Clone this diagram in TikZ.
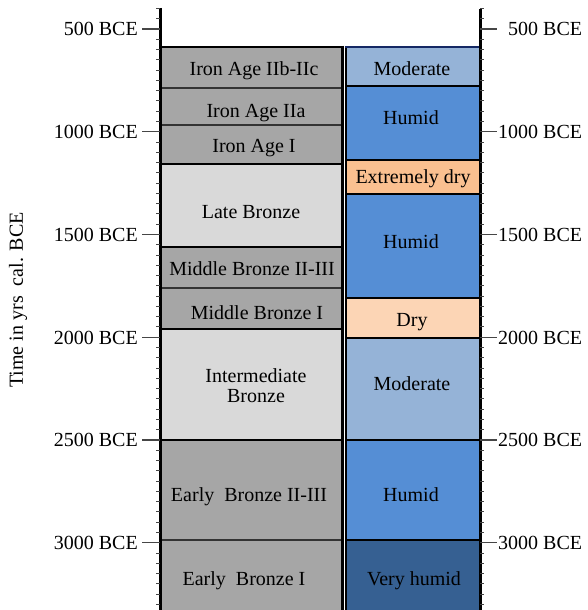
\documentclass[tikz,border=0pt]{standalone}
\usepackage{fontspec}
\setmainfont{Liberation Serif}
\definecolor{gdark}{RGB}{166,166,166}
\definecolor{glight}{RGB}{217,217,217}
\definecolor{moder}{RGB}{149,179,215}
\definecolor{humid}{RGB}{85,142,213}
\definecolor{vhumid}{RGB}{54,96,146}
\definecolor{xdry}{RGB}{250,192,144}
\definecolor{dry}{RGB}{252,213,181}
\definecolor{navy}{RGB}{20,40,100}
\definecolor{tickc}{RGB}{70,70,70}
\begin{document}
\begin{tikzpicture}[x=1pt,y=-1pt,
  font=\fontsize{20}{20}\selectfont,
  lbl/.style={anchor=base, inner sep=0pt},
  thickb/.style={line width=2.8pt, black},
  thinb/.style={line width=1.1pt, black!80},
  cellb/.style={line width=2.8pt, black},
  majtick/.style={line width=1.4pt, tickc},
  mintick/.style={line width=0.9pt, tickc},
  axisl/.style={line width=3pt, black},
  yl/.style={anchor=base east, inner sep=0pt},
  yr/.style={anchor=base west, inner sep=0pt}]
\useasboundingbox (0,0) rectangle (587,610);
% left column fills
\fill[gdark] (160,47) rectangle (343,164);
\fill[glight] (160,164) rectangle (343,247);
\fill[gdark] (160,247) rectangle (343,329);
\fill[glight] (160,329) rectangle (343,440);
\fill[gdark] (160,440) rectangle (343,610);
% right column fills
\fill[moder] (345,47) rectangle (480,86);
\fill[humid] (345,86) rectangle (480,160);
\fill[xdry] (345,160) rectangle (480,194);
\fill[humid] (345,194) rectangle (480,298);
\fill[dry] (345,298) rectangle (480,338);
\fill[moder] (345,338) rectangle (480,440);
\fill[humid] (345,440) rectangle (480,540);
\fill[vhumid] (345,540) rectangle (480,610);
% left column borders
\draw[thinb] (160,88) -- (343,88);
\draw[thinb] (160,125) -- (343,125);
\draw[thinb] (160,288) -- (343,288);
\draw[thinb] (160,540) -- (343,540);
\draw[thickb] (160,47) -- (343,47);
\draw[thickb] (160,164) -- (343,164);
\draw[thickb] (160,247) -- (343,247);
\draw[thickb] (160,329) -- (343,329);
\draw[thickb] (160,440) -- (343,440);
\draw[thickb] (342.5,45.6) -- (342.5,610);
% right column borders
\draw[cellb] (346,47) -- (346,610);
\foreach \yy in {86,160,194,298,338,440,540}
  \draw[cellb] (345,\yy) -- (480,\yy);
\draw[line width=2.5pt, navy] (344.8,47) -- (480,47);
% axes
\draw[axisl] (160,8) -- (160,610);
\draw[axisl] (480,9) -- (480,610);
% minor ticks
\foreach \j in {-2,...,56} {
  \draw[mintick] (156,{29+\j*10.274}) -- (160,{29+\j*10.274});
  \draw[mintick] (480,{29+\j*10.274}) -- (484,{29+\j*10.274});
}
% major ticks and labels
\foreach \k/\lab in {0/500,1/1000,2/1500,3/2000,4/2500,5/3000} {
  \draw[majtick] (142,{29+\k*102.74}) -- (160,{29+\k*102.74});
  \draw[majtick] (480,{29+\k*102.74}) -- (497,{29+\k*102.74});
  \node[yl] (l\lab) at (138,{36+\k*102.74}) {\lab\ BCE};
}
\node[yr] (r500) at (508,36) {500 BCE};
\foreach \k/\lab in {1/1000,2/1500,3/2000,4/2500,5/3000}
  \node[yr] (r\lab) at (498,{36+\k*102.74}) {\lab\ BCE};
% axis title
\node[rotate=90, inner sep=0pt] (title) at (18,300) {Time in yrs\ \ cal. BCE};
% left column texts
\node[lbl] (ia2bc) at (254,75) {Iron Age IIb-IIc};
\node[lbl] (ia2a) at (256,117) {Iron Age IIa};
\node[lbl] (ia1) at (254,152.5) {Iron Age I};
\node[lbl] (lb) at (251,218) {Late Bronze};
\node[lbl] (mb23) at (252,275) {Middle Bronze II-III};
\node[lbl] (mb1) at (257,319) {Middle Bronze I};
\node[anchor=north, inner sep=0pt, align=center, font=\fontsize{20}{20.5}\selectfont] (ib) at (256,368) {Intermediate\\Bronze};
\node[lbl] (eb23) at (249,501.5) {Early\ \ Bronze II-III};
\node[lbl] (eb1) at (244,585) {Early\ \ Bronze I};
% right column texts
\node[lbl] (c1) at (412,75.5) {Moderate};
\node[lbl] (c2) at (411,124) {Humid};
\node[lbl] (c3) at (413,183) {Extremely dry};
\node[lbl] (c4) at (411,248) {Humid};
\node[lbl] (c5) at (412,326.5) {Dry};
\node[lbl] (c6) at (412,390.5) {Moderate};
\node[lbl] (c7) at (411,501.5) {Humid};
\node[lbl] (c8) at (414,585) {Very humid};
\end{tikzpicture}
\end{document}
